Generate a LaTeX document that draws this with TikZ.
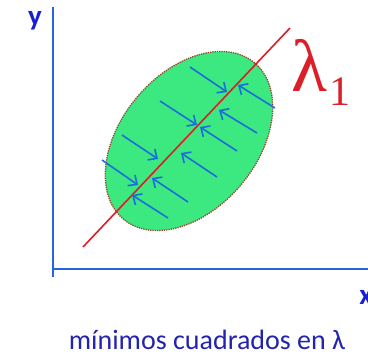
\documentclass[tikz,border=0pt]{standalone}
\usepackage{fontspec}
\setmainfont{Carlito}
\newfontfamily\lamfont{Liberation Serif}
\usepackage{tikz}
\usetikzlibrary{arrows.meta,calc}
\definecolor{axisblue}{RGB}{40,100,225}
\definecolor{arrowblue}{RGB}{25,110,220}
\definecolor{textblue}{RGB}{35,35,175}
\definecolor{labelblue}{RGB}{25,30,210}
\definecolor{leafgreen}{RGB}{60,232,128}
\definecolor{rimbrown}{RGB}{150,70,45}
\definecolor{fitred}{RGB}{220,30,40}

\begin{document}
\begin{tikzpicture}[x=1pt,y=-1pt,
  axisline/.style={draw=axisblue,line width=1.6pt},
  axislabel/.style={text=labelblue,font=\bfseries\fontsize{29}{30}\selectfont},
  pushline/.style={draw=arrowblue,line width=1.6pt,-{Straight Barb[length=7pt,width=13pt]}}]
\useasboundingbox (0,0) rectangle (368,360);
% axes
\coordinate (origin) at (53,269);
\coordinate (ytop) at (53,7);
\coordinate (xend) at (368,269);
\draw[axisline] (ytop) -- (53,277);
\draw[axisline] (origin) -- (xend);
\node[axislabel] (ylab) at (35,21) {y};
\node[axislabel] (xlab) at (366,297) {x};
% point cloud
\coordinate (ctr) at (189,141);
\fill[leafgreen,rotate around={50:(ctr)}] (ctr) ellipse [x radius=102,y radius=68];
\draw[rimbrown,densely dotted,line width=1.3pt,rotate around={50:(ctr)}] (ctr) ellipse [x radius=102,y radius=68];
% principal axis
\coordinate (fitlow) at (83,247);
\coordinate (fithigh) at (290,28);
\draw[fitred,line width=1.6pt] (fitlow) -- (fithigh);
\node[text=fitred,font=\lamfont\fontsize{74}{74}\selectfont] (lam) at (309,65) {λ};
\node[text=fitred,font=\lamfont\fontsize{42}{42}\selectfont] (lamsub) at (340,92) {1};
% projections onto the axis
\foreach \xa/\ya/\xb/\yb in {190/67/227/92, 160/101/197/125, 122/135/158/159, 102/160/138/185,
    275/108/238/85, 257/133/219/110, 237/151/200/127, 217/177/181/153, 188/202/152/178, 168/218/132/195}
  \draw[pushline] (\xa,\ya) -- (\xb,\yb);
% caption
\node[text=textblue,font=\fontsize{28}{30}\selectfont] (caption) at (207,340) {mínimos cuadrados en λ};
\end{tikzpicture}
\end{document}
